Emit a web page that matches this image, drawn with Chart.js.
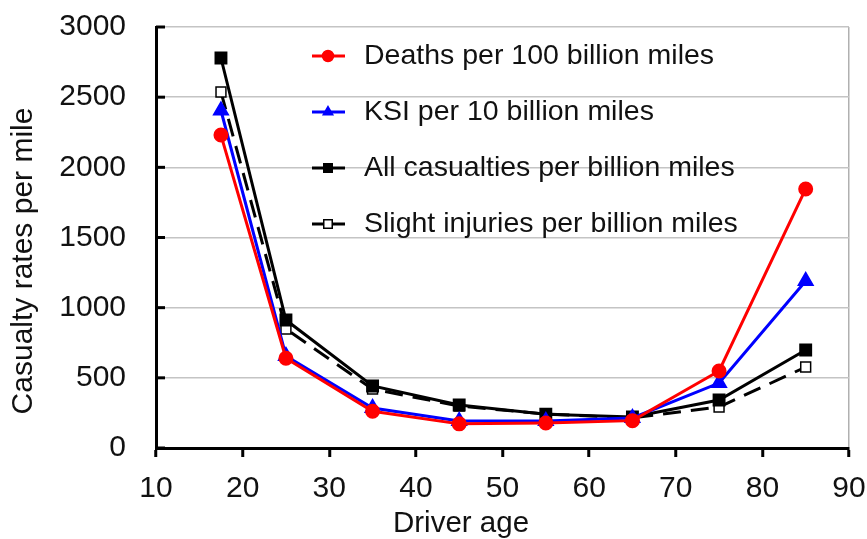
<!DOCTYPE html>
<html>
<head>
<meta charset="utf-8">
<script src="https://cdn.jsdelivr.net/npm/chart.js@4.4.1/dist/chart.umd.min.js"></script>
<style>
html,body{margin:0;padding:0;background:#fff;}
#wrap{width:867px;height:539px;position:relative;}
</style>
</head>
<body>
<div id="wrap"><canvas id="c" width="867" height="539"></canvas></div>
<script>
// Data
const ages = [17.5, 25, 35, 45, 55, 65, 75, 85];
const deathsPer100bn = [2230, 640, 262, 172, 178, 195, 549, 1846];
const ksiPer10bn = [2405, 656, 285, 192, 192, 214, 463, 1190];
const allCasualtiesPerBn = [2779, 912, 442, 306, 240, 221, 342, 698];
const slightPerBn = [2537, 848, 420, 299, 242, 214, 292, 577];
const seriesNames = [
  'Deaths per 100 billion miles',
  'KSI per 10 billion miles',
  'All casualties per billion miles',
  'Slight injuries per billion miles'
];
const yTicks = [0, 500, 1000, 1500, 2000, 2500, 3000];
const xTicks = [10, 20, 30, 40, 50, 60, 70, 80, 90];
const xTitle = 'Driver age';
const yTitle = 'Casualty rates per mile';

const toXY = (arr) => arr.map((v, i) => ({x: ages[i], y: v}));
const FONT = '"Liberation Sans", Arial, Helvetica, sans-serif';

const legendPlugin = {
  id: 'innerLegend',
  afterDraw(chart) {
    const ctx = chart.ctx;
    const rowsY = [56, 112, 168, 224];
    ctx.save();
    chart.data.datasets.forEach((ds, i) => {
      const y = rowsY[i];
      ctx.strokeStyle = ds.borderColor;
      ctx.lineWidth = 3;
      ctx.setLineDash([]);
      ctx.beginPath();
      ctx.moveTo(312, y);
      ctx.lineTo(345, y);
      ctx.stroke();
      ctx.fillStyle = ds.pointBackgroundColor;
      ctx.strokeStyle = ds.pointBorderColor;
      ctx.lineWidth = 1.5;
      Chart.helpers.drawPoint(ctx, {pointStyle: ds.pointStyle, radius: ds.pointStyle === 'rect' ? 6 : 5.5, rotation: 0, borderWidth: 1.5}, 328, y);
      ctx.fillStyle = '#111';
      ctx.font = '28.5px ' + FONT;
      ctx.textBaseline = 'middle';
      ctx.textAlign = 'left';
      ctx.fillText(seriesNames[i], 364, y);
    });
    // axis titles
    ctx.fillStyle = '#111';
    ctx.font = '29.5px ' + FONT;
    ctx.textAlign = 'center';
    ctx.textBaseline = 'alphabetic';
    ctx.fillText(xTitle, 461, 532);
    ctx.save();
    ctx.translate(32, 261);
    ctx.rotate(-Math.PI / 2);
    ctx.font = '30px ' + FONT;
    ctx.fillText(yTitle, 0, 0);
    ctx.restore();
    ctx.restore();
  }
};

const tickStubPlugin = {
  id: 'tickStubs',
  afterDraw(chart) {
    const ctx = chart.ctx;
    const ys = chart.scales.y;
    const left = chart.chartArea.left;
    ctx.save();
    ctx.strokeStyle = '#000';
    ctx.lineWidth = 3;
    yTicks.forEach(v => {
      const p = ys.getPixelForValue(v);
      ctx.beginPath();
      ctx.moveTo(left, p);
      ctx.lineTo(left + 9, p);
      ctx.stroke();
    });
    ctx.restore();
  }
};

new Chart(document.getElementById('c'), {
  type: 'line',
  data: {
    datasets: [
      {
        label: seriesNames[0], data: toXY(deathsPer100bn),
        borderColor: '#ff0000', backgroundColor: '#ff0000',
        pointBackgroundColor: '#ff0000', pointBorderColor: '#ff0000',
        pointStyle: 'circle', pointRadius: 6, borderWidth: 3, order: 1
      },
      {
        label: seriesNames[1], data: toXY(ksiPer10bn),
        borderColor: '#0000ff', backgroundColor: '#0000ff',
        pointBackgroundColor: '#0000ff', pointBorderColor: '#0000ff',
        pointStyle: 'triangle', pointRadius: 7, borderWidth: 3, order: 2
      },
      {
        label: seriesNames[2], data: toXY(allCasualtiesPerBn),
        borderColor: '#000000', backgroundColor: '#000000',
        pointBackgroundColor: '#000000', pointBorderColor: '#000000',
        pointStyle: 'rect', pointRadius: 7, borderWidth: 3, order: 3
      },
      {
        label: seriesNames[3], data: toXY(slightPerBn),
        borderColor: '#000000', backgroundColor: '#ffffff',
        pointBackgroundColor: '#ffffff', pointBorderColor: '#000000',
        pointStyle: 'rect', pointRadius: 7, pointBorderWidth: 1.5,
        borderWidth: 3, borderDash: [18, 10], order: 4
      }
    ]
  },
  options: {
    responsive: false,
    animation: false,
    layout: {padding: {top: 27, right: 18, left: 0, bottom: 0}},
    plugins: {legend: {display: false}, tooltip: {enabled: false}},
    elements: {line: {tension: 0}},
    scales: {
      x: {
        type: 'linear', min: 10, max: 90,
        afterBuildTicks: (s) => { s.ticks = xTicks.map(v => ({value: v})); },
        afterFit: (s) => { s.height = 91; s.paddingLeft = 0; s.paddingRight = 0; },
        grid: {
          drawOnChartArea: true, drawTicks: true, tickLength: 9, tickWidth: 3, tickColor: '#000',
          color: (c) => (c.tick && c.tick.value === 90) ? '#b0b0b0' : 'rgba(0,0,0,0)',
          lineWidth: 1.5
        },
        border: {display: true, color: '#000', width: 3},
        ticks: {color: '#111', font: {family: FONT, size: 30}, padding: 14, maxRotation: 0,
                callback: (v) => String(v)},
        title: {display: false}
      },
      y: {
        min: 0, max: 3000,
        afterBuildTicks: (s) => { s.ticks = yTicks.map(v => ({value: v})); },
        afterFit: (s) => { s.width = 156; s.paddingTop = 0; s.paddingBottom = 0; },
        grid: {drawTicks: false, color: '#c4c4c4', lineWidth: 1.5},
        border: {display: true, color: '#000', width: 3},
        ticks: {color: '#111', font: {family: FONT, size: 30}, padding: 30,
                callback: (v) => String(v)},
        title: {display: false}
      }
    }
  },
  plugins: [legendPlugin, tickStubPlugin]
});
</script>
</body>
</html>
